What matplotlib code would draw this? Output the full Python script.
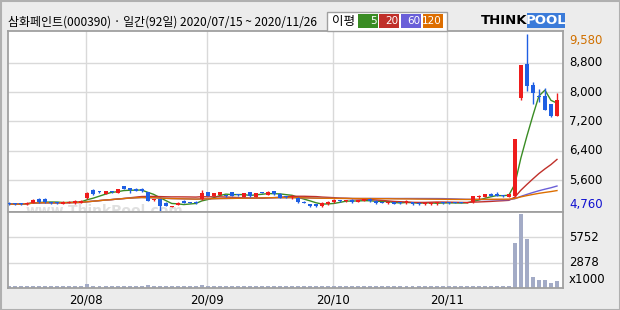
import matplotlib
matplotlib.use("Agg")
import matplotlib.pyplot as plt
import matplotlib.transforms as mtransforms
from matplotlib.patches import Rectangle
import numpy as np
import pandas as pd

# daily OHLC (92 sessions, 2020/07/15 ~ 2020/11/26)
opens = [4990, 4960, 4960, 4950, 4990, 5080, 5090, 5000, 4990, 4960, 4980, 4970, 4990,
         5110, 5340, 5300, 5230, 5300, 5250, 5430, 5380, 5370, 5360, 5270, 5060, 5090, 4990,
         4870, 4930, 5040, 5000, 5020, 5080,
         5270, 5180, 5210, 5180, 5270, 5200, 5150, 5270, 5150, 5270, 5200, 5300, 5220, 5160,
         5140, 5130, 5010, 4950, 4950, 4890, 4950,
         5000, 5050, 5030, 5060, 5020, 5040, 5100, 5040, 5000, 4970, 5000, 4990, 4970, 5000,
         4990, 4950, 4950, 4980, 4990,
         4990, 4990, 4990, 4980, 4995, 5150, 5150, 5220, 5230, 5190, 5150, 5180, 7850, 8770,
         8190, 7880, 7900, 7670, 7350]
highs = [5000, 4980, 4970, 5000, 5100, 5120, 5110, 5010, 5010, 5030, 5030, 5050, 5060,
         5280, 5350, 5320, 5310, 5310, 5370, 5440, 5390, 5380, 5380, 5290, 5100, 5100, 5010,
         4910, 5000, 5050, 5020, 5030, 5330,
         5280, 5260, 5290, 5200, 5290, 5220, 5250, 5280, 5260, 5290, 5300, 5310, 5240, 5180,
         5200, 5140, 5030, 4960, 4960, 5000, 5030,
         5080, 5070, 5060, 5080, 5050, 5100, 5110, 5050, 5010, 5020, 5010, 5000, 5060, 5010,
         5000, 5000, 5000, 5020, 5000,
         5000, 5000, 5000, 5020, 5180, 5190, 5230, 5240, 5290, 5200, 5230, 6720, 8730, 9580,
         8270, 8080, 8100, 7680, 7970]
lows = [4940, 4930, 4940, 4940, 4980, 4990, 4980, 4950, 4960, 4950, 4970, 4960, 4980,
        5100, 5200, 5250, 5220, 5260, 5240, 5360, 5240, 5300, 5280, 5030, 5040, 4760, 4890,
        4860, 4920, 4980, 4970, 4960, 5070,
        5160, 5170, 5200, 5150, 5170, 5170, 5140, 5150, 5140, 5240, 5190, 5210, 5120, 5130,
        5090, 4980, 4970, 4870, 4880, 4880, 4940,
        4990, 5020, 5010, 4990, 5000, 5030, 5020, 4960, 4970, 4960, 4950, 4960, 4950, 4940,
        4940, 4940, 4940, 4920, 4960,
        4960, 4970, 4970, 4970, 4990, 5100, 5140, 5170, 5170, 5150, 5140, 5150, 7780, 8030,
        7670, 7720, 7510, 7310, 7340]
closes = [4950, 4950, 4950, 4990, 5070, 5010, 5000, 4970, 4980, 5010, 5020, 5030, 5040,
          5260, 5220, 5290, 5300, 5280, 5350, 5370, 5340, 5310, 5300, 5040, 5090, 4910, 4900,
          4900, 4990, 4990, 4990, 4970, 5250,
          5180, 5240, 5280, 5160, 5180, 5190, 5240, 5160, 5250, 5250, 5290, 5220, 5130, 5150,
          5160, 5000, 4990, 4890, 4890, 4990, 5020,
          5060, 5040, 5050, 5000, 5040, 5090, 5030, 4970, 4990, 5010, 4960, 4980, 5040, 4950,
          4950, 4990, 4990, 4990, 4980,
          4970, 4980, 4980, 5010, 5175, 5160, 5220, 5180, 5180, 5160, 5220, 6720, 8730, 8170,
          7970, 7870, 7520, 7340, 7790]
# volume, x1000 shares
volumes = [230, 215, 220, 225, 260, 250, 240, 220, 215, 230, 225, 235, 240,
           400, 280, 250, 240, 230, 265, 260, 240, 230, 225, 290, 240, 280, 230, 220, 225, 215,
           210, 215, 380,
           260, 240, 245, 220, 230, 215, 225, 230, 225, 210, 230, 225, 220, 215, 220, 250, 220,
           230, 225, 230, 225,
           240, 215, 210, 215, 220, 225, 230, 220, 210, 215, 215, 210, 225, 215, 220, 215, 220,
           210, 215,
           210, 215, 210, 225, 280, 230, 240, 225, 230, 215, 240,
           5130, 8450, 5560, 1300, 955, 955, 530, 840]

month_labels = ["20/08", "20/09", "20/10", "20/11"]
month_start = [13, 33, 54, 73]
price_ticks = [9580, 8800, 8000, 7200, 6400, 5600, 4760]
price_tick_labels = ["9,580", "8,800", "8,000", "7,200", "6,400", "5,600", "4,760"]
vol_ticks = [5752, 2878]
ma_windows = [5, 20, 60, 120]

UP, DOWN = "#ee1c1c", "#1f5fe3"
MA_COLORS = ["#3a8c24", "#c0302a", "#6a5fd8", "#dd6e00"]
GRID = "#d9d9d9"
EDGE = "#a0a0a0"
W, H = 620, 310

plt.rcParams["font.family"] = ["Noto Sans CJK KR", "DejaVu Sans"]

fig = plt.figure(figsize=(W / 100, H / 100), dpi=100, facecolor="#ececec")


def px_axes(l, t, r, b):
    return fig.add_axes([l / W, 1 - b / H, (r - l) / W, (b - t) / H])


def px_rect(l, t, r, b, **kw):
    fig.patches.append(Rectangle((l / W, 1 - b / H), (r - l) / W, (b - t) / H,
                                 transform=fig.transFigure, **kw))


ax = px_axes(8, 31, 563, 212)
axv = px_axes(8, 212, 563, 288)

n = len(closes)
x = np.arange(n)
o = np.array(opens)
c = np.array(closes)
cols = [UP if cc >= oo else DOWN for oo, cc in zip(o, c)]
bottoms = np.minimum(o, c)
heights = np.maximum(np.abs(c - o), 30)

for a in (ax, axv):
    a.set_xlim(-0.2, 92.0)
    a.set_xticks([])
    a.set_yticks([])
    for s in a.spines.values():
        s.set_color(EDGE)
        s.set_linewidth(1.3)
    for m in month_start:
        a.axvline(m - 0.2, color=GRID, lw=1, zorder=0)

ax.set_ylim(4736, 9660)
for v in price_ticks[1:-1]:
    ax.axhline(v, color=GRID, lw=1, zorder=0)

# faint site watermark near the bottom-left
ax.text(2.7, 4660, "www.ThinkPool.com", color="#e0e0e0", fontsize=10, fontweight="bold",
        family="DejaVu Sans", zorder=0.5)

s = pd.Series(closes, dtype=float)
for w, col in zip(ma_windows, MA_COLORS):
    ax.plot(x, s.rolling(w, min_periods=1).mean(), color=col, lw=1, zorder=1)

ax.vlines(x, lows, highs, colors=cols, lw=1, zorder=2)
ax.bar(x, heights, bottom=bottoms, width=0.66, color=cols, lw=0, zorder=3)

axv.set_ylim(0, 8630)
for v in vol_ticks:
    axv.axhline(v, color=GRID, lw=1, zorder=0)
axv.bar(x, volumes, width=0.66, color="#a3abc6", lw=0, zorder=2, antialiased=False)

# right-hand labels
tr = mtransforms.blended_transform_factory(ax.transAxes, ax.transData)
for v, lab in zip(price_ticks, price_tick_labels):
    color, va = "black", "center"
    if v == price_ticks[0]:
        color, va = "#d07000", "top"
    elif v == price_ticks[-1]:
        color, va = "#1010d0", "bottom"
    ax.text(1.011, v, lab, transform=tr, color=color, va=va, ha="left",
            fontsize=8.5, family="DejaVu Sans")

trv = mtransforms.blended_transform_factory(axv.transAxes, axv.transData)
for v in vol_ticks:
    axv.text(1.011, v, str(v), transform=trv, va="center", ha="left",
             fontsize=8.5, family="DejaVu Sans")
axv.text(1.011, 0.02, "x1000", transform=axv.transAxes, va="bottom", ha="left",
         fontsize=8.5, family="DejaVu Sans")

trx = mtransforms.blended_transform_factory(axv.transData, axv.transAxes)
for m, lab in zip(month_start, month_labels):
    axv.text(m - 0.2, -0.16, lab, transform=trx, ha="center", va="center",
             fontsize=8.5, family="DejaVu Sans")

# header
fig.text(8 / W, 1 - 22 / H, "삼화페인트(000390) · 일간(92일) 2020/07/15 ~ 2020/11/26",
         fontsize=8.6, va="center", ha="left")

# MA legend
px_rect(327, 12, 447, 31, facecolor="white", edgecolor=EDGE, lw=1)
fig.text(332 / W, 1 - 21 / H, "이평", fontsize=9, va="center", ha="left")
boxes = [(358, 378), (379, 399), (401, 421), (423, 443)]
for (l, r), w, col in zip(boxes, ma_windows, MA_COLORS):
    px_rect(l, 14, r, 28, facecolor=col, edgecolor="none")
    fig.text((r - 1) / W, 1 - 21 / H, str(w), color="white", fontsize=7.5,
             va="center", ha="right", family="DejaVu Sans")

# logo
fig.text(481 / W, 1 - 21 / H, "THINK", fontsize=9.5, fontweight="heavy",
         va="center", ha="left", family="DejaVu Sans")
px_rect(527, 13, 565, 28, facecolor="#3b7bd9", edgecolor="none")
fig.text(546 / W, 1 - 21 / H, "POOL", color="white", fontsize=9.5, fontweight="heavy",
         va="center", ha="center", family="DejaVu Sans")

# outer frame
px_rect(0.5, 0.5, 619.5, 309.5, facecolor="none", edgecolor="#b0b0b0", lw=1.5)

fig.savefig("out.png", dpi=100, facecolor=fig.get_facecolor())
